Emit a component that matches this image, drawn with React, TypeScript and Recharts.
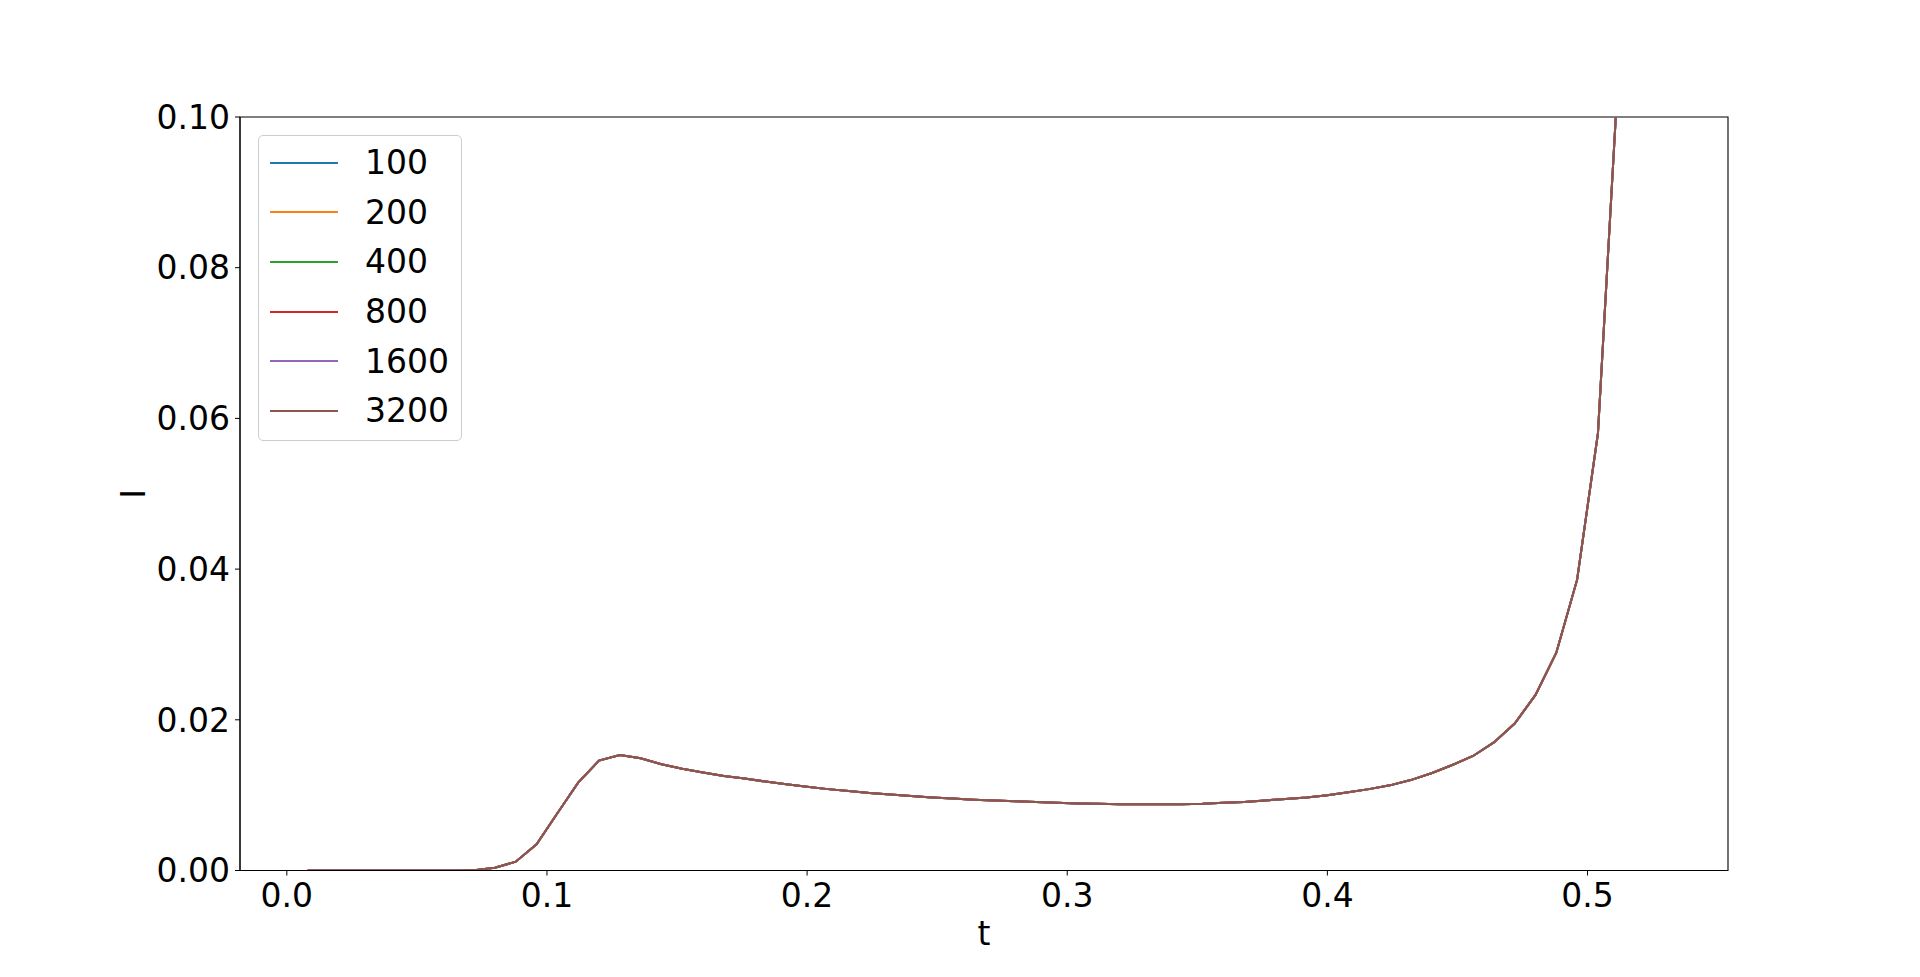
import { Line, LineChart, XAxis, YAxis, Legend, ReferenceArea } from "recharts"

// time samples (dt = 0.008)
const tValues = [
  0.008, 0.016, 0.024, 0.032, 0.04, 0.048, 0.056, 0.064, 0.072, 0.08,
  0.088, 0.096, 0.104, 0.112, 0.12, 0.128, 0.136, 0.144, 0.152, 0.16,
  0.168, 0.176, 0.184, 0.192, 0.2, 0.208, 0.216, 0.224, 0.232, 0.24,
  0.248, 0.256, 0.264, 0.272, 0.28, 0.288, 0.296, 0.304, 0.312, 0.32,
  0.328, 0.336, 0.344, 0.352, 0.36, 0.368, 0.376, 0.384, 0.392, 0.4,
  0.408, 0.416, 0.424, 0.432, 0.44, 0.448, 0.456, 0.464, 0.472, 0.48,
  0.488, 0.496, 0.504, 0.512, 0.52, 0.528,
]

// all resolutions sit on top of each other at this scale
const overlapCurve = [
  0, 0, 0, 0, 0, 0, 0, 0, 0.00005, 0.00037,
  0.00117, 0.00347, 0.0076, 0.01166, 0.01458, 0.01533, 0.0149, 0.0141, 0.0135, 0.013,
  0.01255, 0.0122, 0.0118, 0.01145, 0.0111, 0.0108, 0.01055, 0.0103, 0.0101, 0.0099,
  0.0097, 0.00955, 0.0094, 0.0093, 0.0092, 0.0091, 0.009, 0.0089, 0.00885, 0.0088,
  0.0088, 0.0088, 0.0088, 0.00885, 0.009, 0.0091, 0.0093, 0.0095, 0.0097, 0.01,
  0.0104, 0.0108, 0.0113, 0.012, 0.0129, 0.014, 0.0152, 0.017, 0.0195, 0.0233,
  0.0289, 0.0386, 0.058, 0.107, 0.25, 0.8,
]

const resolutions = ["100", "200", "400", "800", "1600", "3200"]
const colors = ["#1f77b4", "#ff7f0e", "#2ca02c", "#d62728", "#9467bd", "#8c564b"]

const xTicks = [0, 0.1, 0.2, 0.3, 0.4, 0.5]
const yTicks = [0, 0.02, 0.04, 0.06, 0.08, 0.1]

const data = tValues.map((t, i) => {
  const row: Record<string, number> = { t }
  resolutions.forEach((r) => {
    row["n" + r] = overlapCurve[i]
  })
  return row
})

const font = "'DejaVu Sans', sans-serif"
const fontSize = 33

function LegendBox({ payload }: any) {
  // keep plotting order, not alphabetical
  const items = [...(payload || [])].sort(
    (a: any, b: any) => resolutions.indexOf(a.value) - resolutions.indexOf(b.value)
  )
  return (
    <div
      style={{
        width: 204,
        height: 306,
        boxSizing: "border-box",
        border: "1px solid #cccccc",
        borderRadius: 5,
        background: "rgba(255,255,255,0.8)",
        paddingTop: 2,
        fontFamily: font,
        fontSize,
        color: "#000",
      }}
    >
      {items.map((p: any) => (
        <div key={p.value} style={{ height: 49.6, display: "flex", alignItems: "center" }}>
          <svg width={68} height={4} style={{ marginLeft: 11, display: "block" }}>
            <line x1={0} y1={2} x2={68} y2={2} stroke={p.color} strokeWidth={2} />
          </svg>
          <span style={{ marginLeft: 27, lineHeight: 1 }}>{p.value}</span>
        </div>
      ))}
    </div>
  )
}

export default function App() {
  return (
    <div style={{ width: 1920, height: 977, background: "#fff" }}>
      <style>{`body{margin:0}`}</style>
      <LineChart
        width={1920}
        height={977}
        data={data}
        margin={{ top: 117, right: 192, bottom: 56.5, left: 100 }}
        style={{ fontFamily: font }}
      >
        <XAxis
          dataKey="t"
          type="number"
          domain={[-0.018, 0.554]}
          allowDataOverflow
          ticks={xTicks}
          tickFormatter={(v) => v.toFixed(1)}
          height={50}
          tickSize={5}
          tickMargin={8}
          stroke="#000"
          tick={{ fill: "#000", fontSize }}
          label={{
            content: ({ viewBox }: any) => (
              <text
                x={viewBox.x + viewBox.width / 2}
                y={945}
                textAnchor="middle"
                fontSize={fontSize}
                fill="#000"
              >
                t
              </text>
            ),
          }}
        />
        <YAxis
          type="number"
          domain={[0, 0.1]}
          allowDataOverflow
          ticks={yTicks}
          tickFormatter={(v) => v.toFixed(2)}
          width={140}
          tickSize={5}
          tickMargin={5}
          stroke="#000"
          tick={{ fill: "#000", fontSize }}
          label={{
            content: ({ viewBox }: any) => {
              const cx = 144.5
              const cy = viewBox.y + viewBox.height / 2
              return (
                <text
                  x={cx}
                  y={cy}
                  textAnchor="middle"
                  fontSize={fontSize}
                  fill="#000"
                  transform={`rotate(-90 ${cx} ${cy})`}
                >
                  I
                </text>
              )
            },
          }}
        />
        <ReferenceArea
          x1={-0.018}
          x2={0.554}
          y1={0}
          y2={0.1}
          fill="none"
          stroke="#000"
          strokeWidth={1.1}
          ifOverflow="visible"
        />
        {resolutions.map((r, i) => (
          <Line
            key={r}
            dataKey={"n" + r}
            name={r}
            type="linear"
            stroke={colors[i]}
            strokeWidth={2}
            dot={false}
            isAnimationActive={false}
          />
        ))}
        <Legend
          layout="vertical"
          align="center"
          verticalAlign="middle"
          content={<LegendBox />}
          wrapperStyle={{ left: 258, top: 135, width: 204, height: 306 }}
        />
      </LineChart>
    </div>
  )
}
